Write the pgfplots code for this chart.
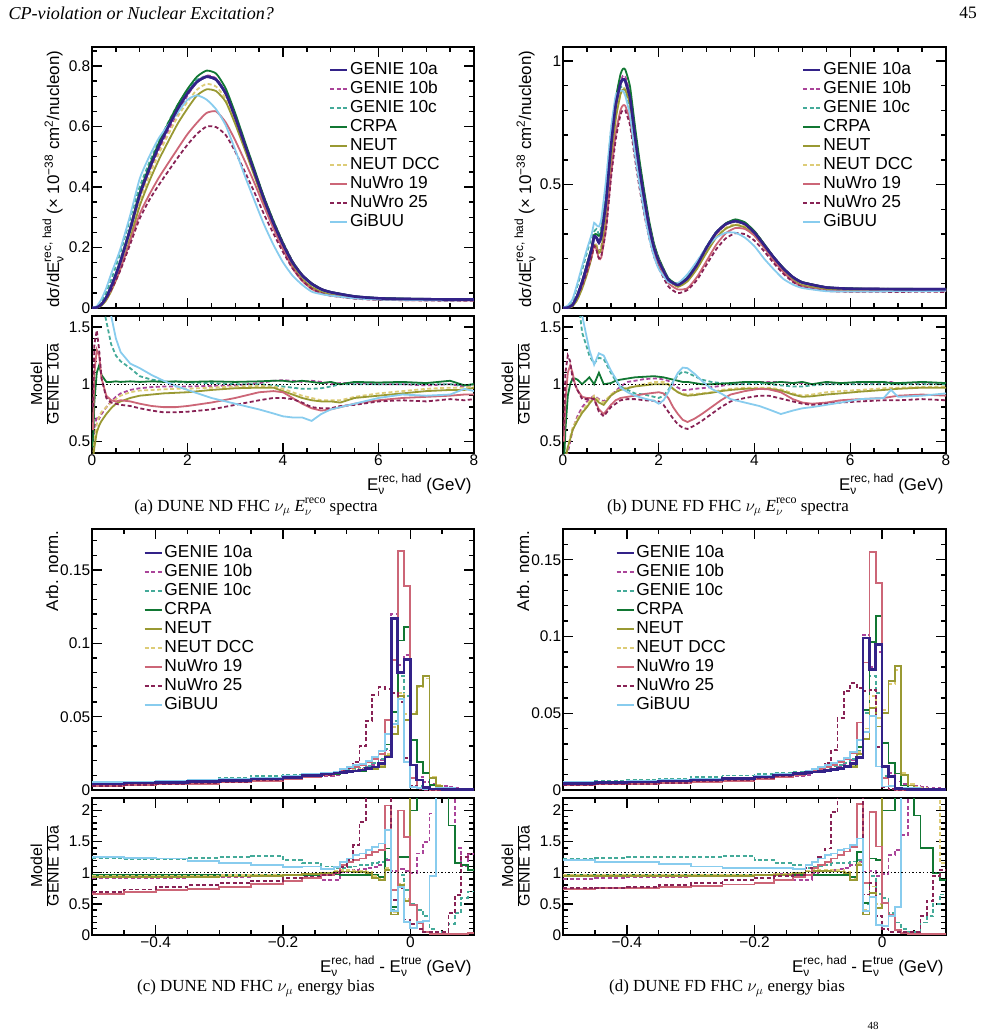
\documentclass[border=0pt]{standalone}
\usepackage{fontspec}
\setmainfont{Liberation Sans}
\newfontfamily\serif{Liberation Serif}
\usepackage{pgfplots}
\usepackage{pgfplotstable}
\pgfplotsset{compat=1.18}
\definecolor{cga}{HTML}{332288}
\definecolor{cgb}{HTML}{AA4499}
\definecolor{cgc}{HTML}{44AA99}
\definecolor{ccr}{HTML}{117733}
\definecolor{cne}{HTML}{999933}
\definecolor{cnd}{HTML}{DDCC77}
\definecolor{cna}{HTML}{CC6677}
\definecolor{cnb}{HTML}{882255}
\definecolor{cgi}{HTML}{88CCEE}

\pgfplotstableread{
x ga gb gc cr ne nd na nb gi
0.0 0 0 0 0 0 0 0 0 0
0.1 0.002 0.0014 0.0044 0.0022 0.0012 0.0013 0.0026 0.0029 0.006
0.2 0.012 0.009 0.021 0.013 0.008 0.009 0.0126 0.0126 0.030
0.3 0.035 0.028 0.0525 0.036 0.026 0.028 0.0315 0.031 0.0665
0.4 0.070 0.060 0.092 0.071 0.055 0.059 0.060 0.059 0.112
0.5 0.110 0.098 0.1375 0.112 0.091 0.096 0.0935 0.091 0.154
0.6 0.155 0.143 0.186 0.158 0.132 0.140 0.133 0.127 0.198
0.8 0.260 0.247 0.296 0.265 0.229 0.242 0.221 0.211 0.307
1.0 0.375 0.362 0.401 0.383 0.338 0.354 0.311 0.296 0.428
1.2 0.460 0.449 0.481 0.469 0.419 0.437 0.375 0.357 0.501
1.4 0.535 0.523 0.551 0.546 0.490 0.510 0.431 0.407 0.562
1.6 0.600 0.588 0.615 0.612 0.552 0.574 0.480 0.453 0.606
1.8 0.660 0.647 0.673 0.673 0.611 0.634 0.528 0.498 0.647
2.0 0.710 0.703 0.721 0.724 0.660 0.682 0.575 0.540 0.689
2.2 0.748 0.748 0.755 0.765 0.703 0.722 0.613 0.576 0.703
2.4 0.765 0.769 0.765 0.785 0.723 0.741 0.645 0.600 0.689
2.6 0.755 0.759 0.755 0.775 0.717 0.732 0.650 0.598 0.657
2.8 0.710 0.710 0.710 0.726 0.682 0.692 0.614 0.572 0.604
3.0 0.630 0.630 0.630 0.644 0.608 0.617 0.554 0.517 0.523
3.2 0.540 0.540 0.540 0.551 0.524 0.530 0.486 0.451 0.437
3.4 0.450 0.455 0.450 0.460 0.437 0.443 0.414 0.383 0.356
3.6 0.360 0.367 0.360 0.368 0.349 0.355 0.337 0.311 0.277
3.8 0.280 0.288 0.277 0.288 0.272 0.274 0.263 0.246 0.209
4.0 0.210 0.217 0.206 0.216 0.197 0.202 0.195 0.185 0.151
4.2 0.150 0.155 0.146 0.154 0.137 0.140 0.132 0.131 0.107
4.4 0.108 0.110 0.104 0.110 0.095 0.097 0.090 0.091 0.077
4.6 0.080 0.082 0.077 0.082 0.069 0.070 0.063 0.064 0.054
4.8 0.062 0.063 0.060 0.063 0.053 0.053 0.048 0.049 0.046
5.0 0.052 0.052 0.051 0.053 0.044 0.045 0.041 0.041 0.041
5.5 0.038 0.038 0.038 0.039 0.033 0.034 0.032 0.031 0.032
6.0 0.032 0.032 0.032 0.033 0.029 0.029 0.028 0.027 0.028
6.5 0.030 0.030 0.030 0.031 0.028 0.028 0.026 0.026 0.027
7.0 0.029 0.029 0.029 0.030 0.027 0.028 0.026 0.025 0.026
7.5 0.028 0.028 0.028 0.029 0.027 0.027 0.025 0.024 0.025
8.0 0.028 0.028 0.028 0.028 0.027 0.027 0.025 0.024 0.026
}\tabAm

\pgfplotstableread{
x gb gc cr ne nd na nb gi
0.02 0.45 3.0 0.45 0.35 0.35 0.60 0.80 3.0
0.05 0.62 2.5 0.85 0.45 0.50 1.10 1.35 3.0
0.10 0.72 2.2 1.10 0.58 0.65 1.30 1.47 3.0
0.15 0.70 2.0 1.165 0.64 0.72 1.25 1.30 2.8
0.20 0.74 1.75 1.08 0.68 0.76 1.05 1.05 2.5
0.30 0.80 1.55 1.02 0.74 0.80 0.90 0.88 1.9
0.40 0.85 1.35 1.02 0.79 0.84 0.86 0.84 1.6
0.50 0.89 1.25 1.025 0.83 0.87 0.85 0.83 1.4
0.60 0.92 1.20 1.02 0.85 0.90 0.86 0.82 1.28
0.80 0.95 1.14 1.025 0.88 0.93 0.85 0.81 1.18
1.00 0.965 1.07 1.02 0.90 0.945 0.83 0.79 1.14
1.25 0.975 1.04 1.025 0.91 0.95 0.81 0.77 1.08
1.50 0.98 1.025 1.02 0.92 0.955 0.80 0.755 1.03
1.75 0.98 1.02 1.025 0.925 0.96 0.80 0.755 0.985
2.00 0.98 1.015 1.02 0.93 0.96 0.81 0.76 0.95
2.50 0.985 1.01 1.025 0.95 0.97 0.84 0.78 0.88
3.00 0.99 1.00 1.02 0.965 0.98 0.88 0.82 0.83
3.50 1.01 1.00 1.025 0.97 0.985 0.93 0.86 0.78
3.80 1.03 0.99 1.03 0.97 0.98 0.94 0.88 0.745
4.00 1.035 0.98 1.03 0.94 0.96 0.93 0.88 0.72
4.20 1.03 0.97 1.02 0.91 0.93 0.88 0.87 0.71
4.40 1.02 0.96 1.03 0.88 0.90 0.83 0.84 0.71
4.60 1.03 0.96 1.02 0.86 0.88 0.79 0.80 0.68
4.80 1.02 0.965 1.01 0.85 0.86 0.77 0.79 0.74
5.00 1.00 0.98 1.02 0.85 0.86 0.78 0.79 0.78
5.20 1.01 1.00 1.00 0.84 0.86 0.80 0.81 0.80
5.50 1.01 1.00 1.02 0.88 0.89 0.83 0.82 0.83
6.00 1.00 1.00 1.015 0.90 0.92 0.86 0.85 0.88
6.50 1.00 1.00 1.02 0.92 0.94 0.88 0.86 0.91
7.00 0.99 1.00 1.01 0.94 0.96 0.89 0.85 0.90
7.50 1.00 1.00 1.03 0.95 0.97 0.90 0.87 0.91
7.80 0.98 0.99 0.99 0.95 0.97 0.91 0.86 0.96
8.00 0.99 1.00 1.00 0.97 0.98 0.91 0.87 0.94
}\tabAr

\pgfplotstableread{
x ga gb gc cr ne nd na nb gi
0.0 0 0 0 0 0 0 0 0 0
0.1 0.002 0.0008 0.008 0.0018 0.0009 0.0009 0.0022 0.0025 0.010
0.2 0.012 0.0072 0.030 0.0126 0.0072 0.0074 0.0132 0.0126 0.036
0.3 0.050 0.036 0.090 0.052 0.034 0.035 0.0475 0.0475 0.100
0.4 0.105 0.084 0.155 0.106 0.079 0.081 0.093 0.092 0.170
0.5 0.170 0.1445 0.224 0.177 0.136 0.139 0.150 0.148 0.238
0.6 0.240 0.214 0.290 0.247 0.206 0.211 0.211 0.211 0.300
0.65 0.290 0.261 0.310 0.296 0.255 0.261 0.252 0.252 0.345
0.7 0.285 0.254 0.320 0.299 0.248 0.254 0.237 0.234 0.335
0.75 0.265 0.230 0.300 0.292 0.223 0.228 0.200 0.201 0.330
0.8 0.290 0.249 0.330 0.307 0.238 0.244 0.205 0.212 0.360
0.9 0.430 0.370 0.503 0.430 0.361 0.370 0.327 0.318 0.520
1.0 0.650 0.585 0.715 0.657 0.585 0.592 0.533 0.520 0.720
1.1 0.820 0.771 0.845 0.845 0.763 0.771 0.705 0.681 0.860
1.2 0.910 0.910 0.892 0.946 0.865 0.869 0.801 0.783 0.880
1.25 0.926 0.940 0.898 0.968 0.884 0.889 0.820 0.801 0.880
1.3 0.920 0.938 0.883 0.966 0.883 0.888 0.819 0.800 0.860
1.4 0.850 0.867 0.790 0.897 0.825 0.829 0.761 0.740 0.780
1.5 0.700 0.721 0.644 0.742 0.686 0.690 0.630 0.609 0.630
1.6 0.560 0.582 0.510 0.596 0.552 0.557 0.510 0.484 0.500
1.7 0.440 0.460 0.400 0.469 0.436 0.440 0.403 0.378 0.385
1.8 0.330 0.347 0.297 0.353 0.330 0.333 0.304 0.284 0.285
1.9 0.245 0.257 0.218 0.262 0.245 0.250 0.227 0.209 0.210
2.0 0.190 0.200 0.167 0.202 0.190 0.194 0.177 0.162 0.158
2.2 0.115 0.118 0.109 0.121 0.115 0.115 0.101 0.087 0.105
2.4 0.093 0.090 0.100 0.096 0.086 0.086 0.075 0.060 0.100
2.6 0.120 0.114 0.132 0.122 0.108 0.109 0.080 0.073 0.137
2.8 0.175 0.168 0.186 0.177 0.159 0.160 0.126 0.114 0.190
3.0 0.245 0.238 0.250 0.245 0.225 0.227 0.191 0.176 0.245
3.2 0.305 0.299 0.308 0.305 0.285 0.287 0.256 0.238 0.285
3.4 0.340 0.337 0.340 0.343 0.321 0.325 0.303 0.282 0.305
3.6 0.352 0.352 0.352 0.359 0.336 0.340 0.324 0.303 0.305
3.8 0.340 0.343 0.340 0.347 0.326 0.330 0.320 0.299 0.285
4.0 0.305 0.311 0.308 0.311 0.293 0.296 0.293 0.273 0.250
4.2 0.255 0.260 0.255 0.260 0.245 0.247 0.245 0.230 0.200
4.4 0.205 0.207 0.205 0.207 0.196 0.198 0.193 0.182 0.157
4.6 0.160 0.162 0.158 0.163 0.150 0.152 0.146 0.139 0.118
4.8 0.125 0.126 0.1225 0.126 0.114 0.115 0.109 0.106 0.095
5.0 0.103 0.104 0.101 0.105 0.092 0.093 0.087 0.085 0.081
5.5 0.083 0.084 0.083 0.084 0.0755 0.077 0.070 0.069 0.068
6.0 0.078 0.079 0.078 0.079 0.0725 0.074 0.067 0.066 0.067
6.5 0.077 0.078 0.077 0.078 0.073 0.074 0.068 0.066 0.067
7.0 0.076 0.077 0.076 0.078 0.073 0.074 0.068 0.065 0.068
7.5 0.076 0.077 0.076 0.077 0.0737 0.074 0.069 0.066 0.068
8.0 0.076 0.076 0.076 0.077 0.0737 0.0745 0.068 0.065 0.070
}\tabBm

\pgfplotstableread{
x gb gc cr ne nd na nb gi
0.02 0.2 5 0.3 0.2 0.2 0.5 0.6 5
0.05 0.3 5 0.6 0.35 0.35 0.85 1.1 5
0.1 0.4 4 0.9 0.45 0.45 1.1 1.25 5
0.15 0.5 3 1.0 0.52 0.54 1.165 1.2 4
0.2 0.6 2.5 1.05 0.6 0.62 1.1 1.05 3
0.25 0.66 2.0 1.05 0.64 0.66 1.0 1.0 2.4
0.3 0.72 1.8 1.04 0.68 0.7 0.95 0.95 2.0
0.4 0.8 1.45 1.0 0.75 0.77 0.89 0.87 1.6
0.5 0.85 1.32 1.04 0.8 0.82 0.88 0.87 1.4
0.55 0.87 1.25 1.06 0.83 0.85 0.88 0.88 1.3
0.65 0.9 1.18 1.0 0.88 0.9 0.87 0.87 1.17
0.75 0.87 1.23 1.1 0.84 0.86 0.78 0.76 1.27
0.85 0.85 1.22 1.0 0.82 0.84 0.74 0.72 1.25
1.0 0.9 1.1 1.01 0.9 0.91 0.82 0.8 1.12
1.1 0.94 1.03 1.03 0.93 0.94 0.86 0.83 1.05
1.2 0.98 0.98 1.04 0.95 0.955 0.88 0.86 0.97
1.35 1.02 0.95 1.05 0.965 0.97 0.89 0.87 0.93
1.5 1.03 0.92 1.06 0.98 0.985 0.9 0.87 0.9
1.7 1.045 0.91 1.065 0.99 1.0 0.915 0.86 0.875
1.9 1.05 0.89 1.07 1.0 1.02 0.925 0.855 0.855
2.0 1.05 0.88 1.065 1.0 1.02 0.93 0.85 0.83
2.1 1.04 0.9 1.06 1.0 1.02 0.92 0.82 0.86
2.2 1.03 0.95 1.05 1.0 1.0 0.88 0.76 0.93
2.3 1.0 1.02 1.04 0.96 0.96 0.8 0.7 1.02
2.4 0.97 1.08 1.03 0.93 0.93 0.74 0.65 1.1
2.5 0.95 1.11 1.02 0.91 0.92 0.69 0.62 1.145
2.6 0.95 1.1 1.02 0.9 0.91 0.67 0.61 1.14
2.75 0.96 1.07 1.01 0.905 0.915 0.7 0.64 1.09
2.9 0.965 1.04 1.0 0.915 0.92 0.74 0.68 1.03
3.1 0.975 1.02 1.0 0.925 0.93 0.8 0.74 0.96
3.3 0.985 1.01 1.005 0.94 0.95 0.86 0.8 0.92
3.5 1.0 1.0 1.01 0.95 0.96 0.91 0.85 0.87
3.8 1.01 1.0 1.02 0.96 0.97 0.94 0.88 0.84
4.1 1.02 1.01 1.02 0.96 0.97 0.96 0.9 0.81
4.3 1.02 1.0 1.01 0.96 0.97 0.955 0.9 0.78
4.55 1.02 0.99 1.02 0.945 0.955 0.93 0.875 0.74
4.8 1.01 0.98 1.01 0.91 0.92 0.87 0.85 0.77
5.0 1.01 0.98 1.02 0.89 0.9 0.84 0.83 0.79
5.2 1.0 0.99 1.0 0.895 0.91 0.83 0.82 0.8
5.5 1.01 1.0 1.02 0.91 0.93 0.84 0.83 0.82
5.8 1.0 1.0 1.01 0.92 0.94 0.86 0.84 0.84
6.2 1.01 1.0 1.02 0.935 0.95 0.87 0.85 0.87
6.7 1.01 1.0 1.02 0.95 0.965 0.88 0.86 0.88
6.85 1.02 1.0 1.01 0.955 0.97 0.89 0.86 0.95
7.0 1.0 1.0 1.01 0.96 0.97 0.9 0.86 0.89
7.5 1.01 1.0 1.02 0.97 0.975 0.91 0.87 0.9
8.0 1.0 1.0 1.01 0.97 0.98 0.9 0.86 0.92
}\tabBr

\pgfplotstableread{
x ga gb gc cr ne nd na nb gi
-0.50 0.0042 0.0038 0.0052 0.0040 0.0039 0.0040 0.0028 0.0029 0.0053
-0.45 0.0047 0.0043 0.0057 0.0045 0.0044 0.0045 0.0032 0.0034 0.0058
-0.40 0.0052 0.0048 0.0063 0.0050 0.0048 0.0049 0.0037 0.0040 0.0064
-0.35 0.0058 0.0054 0.0072 0.0056 0.0054 0.0055 0.0043 0.0046 0.0069
-0.30 0.0066 0.0061 0.0083 0.0063 0.0062 0.0063 0.0051 0.0055 0.0076
-0.25 0.0075 0.0071 0.0095 0.0072 0.0071 0.0072 0.0062 0.0065 0.0084
-0.20 0.0086 0.0083 0.0103 0.0083 0.0083 0.0083 0.0075 0.0078 0.0094
-0.17 0.0098 0.0096 0.0113 0.0094 0.0096 0.0096 0.0090 0.0092 0.0108
-0.14 0.0108 0.0095 0.0119 0.0104 0.0108 0.0108 0.0104 0.0105 0.0114
-0.12 0.0116 0.0102 0.0124 0.0111 0.0118 0.0119 0.0116 0.0116 0.0126
-0.11 0.0121 0.0122 0.0131 0.0116 0.0123 0.0126 0.0136 0.0132 0.0142
-0.10 0.0126 0.0129 0.0137 0.0121 0.0129 0.0131 0.0147 0.0151 0.0155
-0.09 0.0131 0.0136 0.0144 0.0126 0.0132 0.0135 0.0157 0.0189 0.0168
-0.08 0.0137 0.0145 0.0153 0.0132 0.0138 0.0141 0.0169 0.0300 0.0179
-0.07 0.0146 0.0158 0.0165 0.0140 0.0146 0.0149 0.0187 0.0470 0.0199
-0.06 0.0158 0.0172 0.0182 0.0152 0.0144 0.0150 0.0210 0.0650 0.0223
-0.05 0.0180 0.0202 0.0211 0.0167 0.0158 0.0162 0.0245 0.0700 0.0265
-0.04 0.0225 0.0270 0.0277 0.0310 0.0236 0.0243 0.0480 0.0690 0.0380
-0.03 0.1170 0.1200 0.0470 0.0530 0.0380 0.0430 0.0886 0.0660 0.0450
-0.02 0.0800 0.0850 0.0780 0.1020 0.0640 0.0660 0.1630 0.0600 0.0620
-0.01 0.0890 0.0920 0.0640 0.1110 0.0480 0.0520 0.1390 0.0220 0.0190
0.00 0.0170 0.0170 0.0085 0.0340 0.0520 0.0530 0.0080 0.0030 0.0019
0.01 0.0068 0.0090 0.0027 0.0190 0.0710 0.0700 0.0013 0.0007 0.0014
0.02 0.0016 0.0055 0.0005 0.0116 0.0780 0.0760 0.0003 0.0001 0.0004
0.03 0.0008 0.0040 0.0001 0.0034 0.0080 0.0090 0.0001 0.0001 0.0008
0.04 0.0006 0.0030 0.0000 0.0012 0.0030 0.0035 0.0001 0.0001 0.0015
0.05 0.0005 0.0025 0.0000 0.0008 0.0012 0.0015 0.0001 0.0001 0.0015
0.06 0.0005 0.0020 0.0001 0.0007 0.0008 0.0010 0.0001 0.0002 0.0012
0.07 0.0004 0.0015 0.0001 0.0005 0.0006 0.0008 0.0001 0.0003 0.0010
0.08 0.0004 0.0010 0.0002 0.0004 0.0005 0.0006 0.0001 0.0005 0.0010
0.09 0.0004 0.0010 0.0003 0.0004 0.0004 0.0005 0.0001 0.0005 0.0010
0.10 0.0004 0.0010 0.0003 0.0004 0.0004 0.0005 0.0001 0.0005 0.0010
}\tabCm

\pgfplotstableread{
x gb gc cr ne nd na nb gi
-0.50 0.91 1.23 0.96 0.93 0.95 0.66 0.69 1.25
-0.45 0.915 1.22 0.96 0.93 0.95 0.69 0.73 1.24
-0.40 0.92 1.22 0.96 0.93 0.95 0.72 0.77 1.23
-0.35 0.925 1.24 0.96 0.93 0.95 0.745 0.8 1.19
-0.30 0.93 1.25 0.96 0.94 0.96 0.77 0.83 1.15
-0.25 0.945 1.27 0.97 0.95 0.96 0.82 0.87 1.12
-0.20 0.96 1.2 0.97 0.96 0.97 0.87 0.91 1.09
-0.17 0.98 1.15 0.97 0.98 0.98 0.92 0.94 1.1
-0.14 0.88 1.1 0.98 1.0 1.0 0.96 0.97 1.06
-0.12 0.88 1.07 0.98 1.02 1.03 1.0 1.0 1.09
-0.11 1.01 1.08 0.97 1.02 1.04 1.12 1.09 1.17
-0.10 1.02 1.09 0.96 1.02 1.04 1.17 1.2 1.23
-0.09 1.04 1.1 0.96 1.01 1.03 1.2 1.44 1.28
-0.08 1.06 1.12 0.96 1.01 1.03 1.23 1.81 1.31
-0.07 1.08 1.13 0.96 1.0 1.02 1.28 3 1.36
-0.06 1.09 1.15 0.96 0.91 0.95 1.33 4 1.41
-0.05 1.12 1.17 0.93 0.88 0.9 1.36 4 1.47
-0.04 1.2 1.23 1.39 1.05 1.08 2.08 3 1.68
-0.03 1.03 0.4 0.45 0.33 0.37 0.72 0.56 0.38
-0.02 1.06 0.97 1.25 0.8 0.82 2.0 0.75 0.77
-0.01 1.03 0.72 1.25 0.54 0.58 1.57 0.25 0.21
0.00 1.0 0.5 2.0 3 3 0.48 0.18 0.11
0.01 1.31 0.4 2.8 3 3 0.19 0.1 0.21
0.02 1.49 0.3 7 3 3 0.05 0.05 0.22
0.03 1.95 0.1 5 3 3 0.02 0.05 0.95
0.04 3 0.05 3 3 3 0.02 0.05 3
0.05 3 0.05 3 3 3 0.02 0.05 3
0.06 3 0.18 1.76 3 3 0.02 0.35 3
0.07 1.4 0.35 1.15 3 3 0.02 0.64 3
0.08 1.1 0.6 1.12 3 3 0.02 1.25 3
0.09 1.3 0.7 1.05 3 3 0.03 1.31 3
0.10 1.3 0.7 1.05 3 3 0.03 1.31 3
}\tabCr

\pgfplotstableread{
x ga gb gc cr ne nd na nb gi
-0.50 0.0043 0.0039 0.0053 0.0042 0.0041 0.0041 0.0032 0.0032 0.0052
-0.45 0.0048 0.0044 0.0060 0.0047 0.0046 0.0046 0.0036 0.0036 0.0056
-0.40 0.0053 0.0049 0.0066 0.0051 0.0050 0.0051 0.0040 0.0041 0.0062
-0.35 0.0059 0.0055 0.0074 0.0057 0.0056 0.0057 0.0045 0.0047 0.0067
-0.30 0.0066 0.0062 0.0083 0.0064 0.0063 0.0064 0.0052 0.0055 0.0073
-0.25 0.0075 0.0071 0.0095 0.0073 0.0071 0.0072 0.0061 0.0066 0.0080
-0.20 0.0086 0.0083 0.0103 0.0083 0.0083 0.0084 0.0072 0.0079 0.0092
-0.17 0.0097 0.0095 0.0113 0.0094 0.0094 0.0095 0.0085 0.0092 0.0105
-0.14 0.0106 0.0093 0.0119 0.0103 0.0105 0.0106 0.0099 0.0103 0.0112
-0.12 0.0113 0.0099 0.0121 0.0110 0.0115 0.0117 0.0110 0.0121 0.0127
-0.11 0.0118 0.0118 0.0129 0.0114 0.0122 0.0124 0.0126 0.0138 0.0138
-0.10 0.0122 0.0124 0.0135 0.0118 0.0126 0.0128 0.0137 0.0153 0.0150
-0.09 0.0127 0.0131 0.0144 0.0123 0.0131 0.0133 0.0149 0.0177 0.0163
-0.08 0.0133 0.0138 0.0153 0.0129 0.0136 0.0138 0.0164 0.0260 0.0174
-0.07 0.0141 0.0149 0.0162 0.0137 0.0144 0.0146 0.0182 0.0468 0.0192
-0.06 0.0152 0.0164 0.0176 0.0147 0.0152 0.0155 0.0204 0.0643 0.0211
-0.05 0.0172 0.0193 0.0203 0.0160 0.0151 0.0155 0.0243 0.0697 0.0248
-0.04 0.0210 0.0246 0.0252 0.0280 0.0235 0.0245 0.0440 0.0664 0.0326
-0.03 0.0990 0.1010 0.0500 0.0520 0.0330 0.0400 0.0830 0.0643 0.0380
-0.02 0.0784 0.0800 0.0740 0.0963 0.0534 0.0610 0.1550 0.0650 0.0480
-0.01 0.0948 0.0900 0.0630 0.1133 0.0414 0.0470 0.1350 0.0280 0.0153
0.00 0.0153 0.0150 0.0092 0.0305 0.0500 0.0520 0.0080 0.0020 0.0023
0.01 0.0087 0.0110 0.0030 0.0174 0.0709 0.0690 0.0028 0.0006 0.0026
0.02 0.0011 0.0055 0.0004 0.0107 0.0806 0.0780 0.0001 0.0001 0.0005
0.03 0.0006 0.0040 0.0001 0.0030 0.0098 0.0110 0.0001 0.0001 0.0015
0.04 0.0005 0.0030 0.0000 0.0012 0.0030 0.0040 0.0001 0.0001 0.0015
0.05 0.0005 0.0025 0.0000 0.0009 0.0015 0.0018 0.0001 0.0001 0.0012
0.06 0.0004 0.0020 0.0001 0.0007 0.0010 0.0012 0.0001 0.0002 0.0010
0.07 0.0004 0.0015 0.0001 0.0006 0.0008 0.0010 0.0001 0.0003 0.0010
0.08 0.0004 0.0012 0.0002 0.0005 0.0006 0.0008 0.0001 0.0004 0.0010
0.09 0.0004 0.0010 0.0003 0.0004 0.0005 0.0006 0.0001 0.0004 0.0010
0.10 0.0004 0.0010 0.0003 0.0004 0.0005 0.0006 0.0001 0.0004 0.0010
}\tabDm

\pgfplotstableread{
x gb gc cr ne nd na nb gi
-0.50 0.9 1.23 0.97 0.95 0.96 0.74 0.75 1.2
-0.45 0.91 1.24 0.97 0.95 0.96 0.75 0.76 1.17
-0.40 0.93 1.25 0.97 0.95 0.96 0.76 0.77 1.17
-0.35 0.935 1.25 0.97 0.95 0.96 0.77 0.8 1.14
-0.30 0.94 1.25 0.97 0.95 0.96 0.79 0.84 1.1
-0.25 0.95 1.27 0.97 0.95 0.96 0.81 0.88 1.07
-0.20 0.97 1.2 0.97 0.96 0.97 0.84 0.92 1.07
-0.17 0.98 1.16 0.97 0.97 0.98 0.88 0.95 1.08
-0.14 0.88 1.12 0.97 0.99 1.0 0.93 0.97 1.06
-0.12 0.88 1.07 0.97 1.02 1.03 0.97 1.07 1.12
-0.11 1.0 1.09 0.97 1.03 1.05 1.07 1.17 1.17
-0.10 1.02 1.11 0.97 1.03 1.05 1.12 1.25 1.23
-0.09 1.03 1.13 0.97 1.03 1.05 1.17 1.39 1.28
-0.08 1.04 1.15 0.97 1.02 1.04 1.23 1.97 1.31
-0.07 1.06 1.15 0.97 1.02 1.04 1.29 3 1.36
-0.06 1.08 1.16 0.97 1.0 1.02 1.34 4 1.39
-0.05 1.12 1.18 0.93 0.88 0.9 1.41 4 1.44
-0.04 1.17 1.2 1.33 1.12 1.15 2.1 3.2 1.55
-0.03 1.02 0.5 0.52 0.33 0.4 0.84 0.65 0.38
-0.02 1.03 0.95 1.23 0.68 0.78 1.98 0.84 0.61
-0.01 0.95 0.66 1.2 0.44 0.5 1.42 0.3 0.16
0.00 0.98 0.6 2.0 3 3 0.52 0.1 0.15
0.01 1.28 0.35 2.0 3 3 0.32 0.05 0.3
0.02 1.36 0.2 9 3 3 0.08 0.05 0.45
0.03 1.6 0.1 6 3 3 0.03 0.05 3
0.04 3 0.05 3 3 3 0.02 0.05 3
0.05 3 0.05 1.92 3 3 0.02 0.05 3
0.06 3 0.2 1.4 3 3 0.02 0.3 3
0.07 3 0.3 1.4 3 3 0.02 0.55 3
0.08 3 0.5 1.0 3 3 0.02 0.95 3
0.09 3 0.65 0.88 3 1.15 0.02 1.05 3
0.10 3 0.65 0.88 3 1.15 0.02 1.05 3
}\tabDr

\pgfplotsset{
  rootaxis/.style={
    scale only axis,
    axis line style={line width=2.6bp},
    tick align=inside,
    major tick length=10bp, minor tick length=5bp,
    tick style={black, line width=1.4bp},
    tick label style={font=\fontsize{15.5}{16}\selectfont, inner sep=1.5bp},
    /pgf/number format/assume math mode=true,
    /pgf/number format/fixed,
    legend style={anchor=north west, draw=none, fill=none, inner sep=0pt, row sep=2.5bp,
      font=\fontsize{17.4}{19}\selectfont,
      nodes={inner sep=0pt, inner xsep=1.5bp, text height=12.5bp, text depth=4bp}},
    legend cell align=left,
    legend image code/.code={\draw[##1] (0bp,0bp) -- (17bp,0bp);},
  },
  sga/.style={color=cga, line width=2.6bp, no markers},
  sgb/.style={color=cgb, line width=1.8bp, dash pattern=on 4bp off 2.5bp, no markers},
  sgc/.style={color=cgc, line width=1.8bp, dash pattern=on 4bp off 2.5bp, no markers},
  scr/.style={color=ccr, line width=1.8bp, no markers},
  sne/.style={color=cne, line width=1.8bp, no markers},
  snd/.style={color=cnd, line width=1.8bp, dash pattern=on 4bp off 2.5bp, no markers},
  sna/.style={color=cna, line width=1.8bp, no markers},
  snb/.style={color=cnb, line width=1.8bp, dash pattern=on 4bp off 2.5bp, no markers},
  sgi/.style={color=cgi, line width=1.8bp, no markers},
}

\newcommand{\mainplots}[2]{%
\addplot[sga,#2] table[x=x,y=ga]{#1};\addlegendentry{GENIE 10a}
\addplot[sgb,#2] table[x=x,y=gb]{#1};\addlegendentry{GENIE 10b}
\addplot[sgc,#2] table[x=x,y=gc]{#1};\addlegendentry{GENIE 10c}
\addplot[scr,#2] table[x=x,y=cr]{#1};\addlegendentry{CRPA}
\addplot[snd,#2,forget plot] table[x=x,y=nd]{#1};
\addplot[sne,#2] table[x=x,y=ne]{#1};\addlegendentry{NEUT}
\addlegendimage{snd}\addlegendentry{NEUT DCC}
\addplot[sna,#2] table[x=x,y=na]{#1};\addlegendentry{NuWro 19}
\addplot[snb,#2] table[x=x,y=nb]{#1};\addlegendentry{NuWro 25}
\addplot[sgi,#2] table[x=x,y=gi]{#1};\addlegendentry{GiBUU}
\addplot[sga,#2,forget plot] table[x=x,y=ga]{#1};
}
\newcommand{\ratioplots}[3]{%
\addplot[sgb,#2] table[x=x,y=gb]{#1};
\addplot[sgc,#2] table[x=x,y=gc]{#1};
\addplot[scr,#2] table[x=x,y=cr]{#1};
\addplot[snd,#2] table[x=x,y=nd]{#1};
\addplot[sne,#2] table[x=x,y=ne]{#1};
\addplot[sna,#2] table[x=x,y=na]{#1};
\addplot[snb,#2] table[x=x,y=nb]{#1};
\addplot[sgi,#2] table[x=x,y=gi]{#1};
\addplot[black, line width=1.4bp, dash pattern=on 1.4bp off 2.2bp] coordinates {#3};
}
\newcommand{\lab}{\fontsize{17}{17}\selectfont}
\newcommand{\Es}[1]{E\rlap{\raisebox{-0.5ex}{\fontsize{12}{12}\selectfont ν}}\raisebox{0.9ex}{\fontsize{12}{12}\selectfont #1}}
\newcommand{\capfont}{\serif\fontsize{17}{17}\selectfont}
\newcommand{\Ereco}{\textit{E}\rlap{\raisebox{-0.55ex}{\fontsize{12}{12}\selectfont$\nu$}}\raisebox{0.95ex}{\fontsize{12}{12}\selectfont reco}}
\newcommand{\ratiolab}{\begin{tabular}{@{}c@{}}Model\\\hline GENIE 10a\end{tabular}}

\begin{document}
\begin{tikzpicture}
\useasboundingbox (0bp,0bp) rectangle (983bp,-1030bp);

% header
\node[anchor=west, font=\serif\itshape\fontsize{18.2}{19}\selectfont] at (5bp,-13bp) {CP-violation or Nuclear Excitation?};
\node[font=\serif\fontsize{17.5}{18}\selectfont] at (968bp,-13bp) {45};
\node[font=\serif\fontsize{11}{11}\selectfont] at (873bp,-1026bp) {48};

% ---------- (a) ----------
\begin{axis}[rootaxis, at={(92bp,-308bp)}, anchor=south west, width=382bp, height=261bp,
  xmin=0, xmax=8, ymin=0, ymax=0.863, xtick={0,2,4,6,8}, minor xtick={0,0.5,...,8}, xticklabels={},
  ytick={0,0.2,0.4,0.6,0.8}, minor ytick={0,0.05,...,0.86}, legend style={at={(0.62,0.944)}}]
\mainplots{\tabAm}{smooth,tension=0.35}
\end{axis}
\begin{axis}[rootaxis, at={(92bp,-453bp)}, anchor=south west, width=382bp, height=137bp,
  xmin=0, xmax=8, ymin=0.4, ymax=1.595, xtick={0,2,4,6,8}, minor xtick={0,0.5,...,8},
  ytick={0.5,1,1.5}, minor ytick={0.4,0.5,...,1.6}]
\ratioplots{\tabAr}{}{(0,1) (8,1)}
\end{axis}

% ---------- (b) ----------
\begin{axis}[rootaxis, at={(563bp,-308bp)}, anchor=south west, width=383bp, height=261bp,
  xmin=0, xmax=8, ymin=0, ymax=1.057, xtick={0,2,4,6,8}, minor xtick={0,0.5,...,8}, xticklabels={},
  ytick={0,0.5,1}, minor ytick={0,0.1,...,1.05}, legend style={at={(0.624,0.944)}}]
\mainplots{\tabBm}{smooth,tension=0.3}
\end{axis}
\begin{axis}[rootaxis, at={(563bp,-453bp)}, anchor=south west, width=383bp, height=137bp,
  xmin=0, xmax=8, ymin=0.4, ymax=1.595, xtick={0,2,4,6,8}, minor xtick={0,0.5,...,8},
  ytick={0.5,1,1.5}, minor ytick={0.4,0.5,...,1.6}]
\ratioplots{\tabBr}{}{(0,1) (8,1)}
\end{axis}

% ---------- (c) ----------
\begin{axis}[rootaxis, at={(92bp,-790bp)}, anchor=south west, width=382bp, height=261bp,
  xmin=-0.5, xmax=0.1, ymin=0, ymax=0.178, xtick={-0.4,-0.2,0}, xticklabels={},
  minor xtick={-0.45,-0.35,-0.3,-0.25,-0.15,-0.1,-0.05,0.05},
  ytick={0,0.05,0.1,0.15}, minor ytick={0,0.01,...,0.175}, legend style={at={(0.134,0.94)}}]
\mainplots{\tabCm}{const plot}
\end{axis}
\begin{axis}[rootaxis, at={(92bp,-935bp)}, anchor=south west, width=382bp, height=137bp,
  xmin=-0.5, xmax=0.1, ymin=0, ymax=2.2, xtick={-0.4,-0.2,0}, xticklabels={−0.4,−0.2,0},
  minor xtick={-0.45,-0.35,-0.3,-0.25,-0.15,-0.1,-0.05,0.05},
  ytick={0,0.5,1,1.5,2}, minor ytick={0,0.1,...,2.2}]
\ratioplots{\tabCr}{const plot}{(-0.5,1) (0.1,1)}
\end{axis}

% ---------- (d) ----------
\begin{axis}[rootaxis, at={(563bp,-790bp)}, anchor=south west, width=383bp, height=261bp,
  xmin=-0.5, xmax=0.1, ymin=0, ymax=0.170, xtick={-0.4,-0.2,0}, xticklabels={},
  minor xtick={-0.45,-0.35,-0.3,-0.25,-0.15,-0.1,-0.05,0.05},
  ytick={0,0.05,0.1,0.15}, minor ytick={0,0.01,...,0.17}, legend style={at={(0.136,0.94)}}]
\mainplots{\tabDm}{const plot}
\end{axis}
\begin{axis}[rootaxis, at={(563bp,-935bp)}, anchor=south west, width=383bp, height=137bp,
  xmin=-0.5, xmax=0.1, ymin=0, ymax=2.2, xtick={-0.4,-0.2,0}, xticklabels={−0.4,−0.2,0},
  minor xtick={-0.45,-0.35,-0.3,-0.25,-0.15,-0.1,-0.05,0.05},
  ytick={0,0.5,1,1.5,2}, minor ytick={0,0.1,...,2.2}]
\ratioplots{\tabDr}{const plot}{(-0.5,1) (0.1,1)}
\end{axis}

% axis titles
\node[rotate=90, anchor=east, font=\lab] at (53bp,-47bp) {dσ/d\Es{rec, had} (× 10\textsuperscript{−38} cm\textsuperscript{2}/nucleon)};
\node[rotate=90, anchor=east, font=\lab] at (525bp,-47bp) {dσ/d\Es{rec, had} (× 10\textsuperscript{−38} cm\textsuperscript{2}/nucleon)};
\node[rotate=90, anchor=east, font=\lab] at (52bp,-527bp) {Arb. norm.};
\node[rotate=90, anchor=east, font=\lab] at (523bp,-527bp) {Arb. norm.};
\node[rotate=90, font=\fontsize{16}{16}\selectfont] at (47bp,-384bp) {\ratiolab};
\node[rotate=90, font=\fontsize{16}{16}\selectfont] at (518bp,-384bp) {\ratiolab};
\node[rotate=90, font=\fontsize{16}{16}\selectfont] at (47bp,-866bp) {\ratiolab};
\node[rotate=90, font=\fontsize{16}{16}\selectfont] at (518bp,-866bp) {\ratiolab};
\node[anchor=east, font=\lab] at (475bp,-484bp) {\Es{rec, had} (GeV)};
\node[anchor=east, font=\lab] at (947bp,-484bp) {\Es{rec, had} (GeV)};
\node[anchor=east, font=\lab] at (475bp,-966bp) {\Es{rec, had} - \Es{true} (GeV)};
\node[anchor=east, font=\lab] at (947bp,-966bp) {\Es{rec, had} - \Es{true} (GeV)};

% captions
\node[font=\capfont] at (256bp,-507bp) {(a) DUNE ND FHC $\nu_\mu$ \Ereco{} spectra};
\node[font=\capfont] at (728bp,-507bp) {(b) DUNE FD FHC $\nu_\mu$ \Ereco{} spectra};
\node[font=\capfont] at (256bp,-988bp) {(c) DUNE ND FHC $\nu_\mu$ energy bias};
\node[font=\capfont] at (727bp,-988bp) {(d) DUNE FD FHC $\nu_\mu$ energy bias};
\end{tikzpicture}
\end{document}
